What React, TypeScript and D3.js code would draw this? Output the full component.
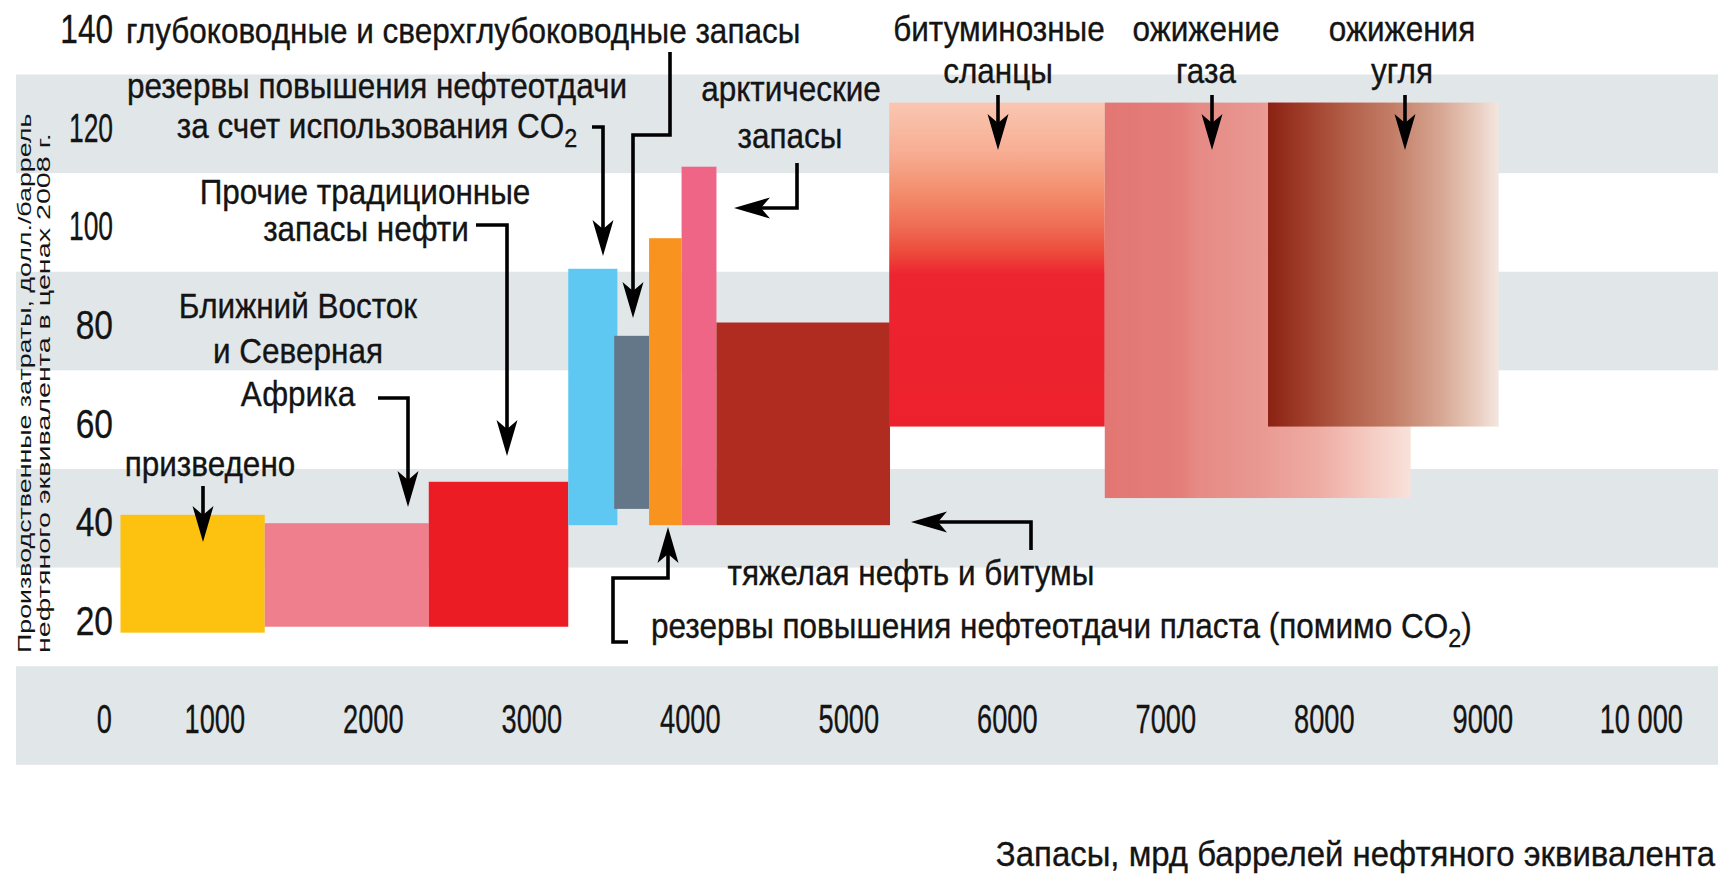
import React from "react";
import * as d3 from "d3";

// ---------- data ----------
const categories = [
  "произведено",
  "Ближний Восток и Северная Африка",
  "Прочие традиционные запасы нефти",
  "резервы повышения нефтеотдачи за счет CO2",
  "глубоководные и сверхглубоководные запасы",
  "резервы повышения нефтеотдачи пласта (помимо CO2)",
  "арктические запасы",
  "тяжелая нефть и битумы",
  "битуминозные сланцы",
  "ожижение газа",
  "ожижение угля",
];
// reserves, bn barrels of oil equivalent (extent on x axis)
const reserveStart = [405, 1315, 2350, 3230, 3520, 3740, 3945, 4165, 5255, 6615, 7645];
const reserveEnd = [1315, 2350, 3230, 3540, 3740, 3945, 4165, 5260, 6615, 8545, 9100];
// production cost, USD/barrel (2008 prices)
const costLow = [16.8, 18.0, 18.0, 38.6, 41.9, 38.6, 38.6, 38.6, 58.6, 44.1, 58.6];
const costHigh = [40.7, 39.0, 47.4, 90.6, 77.0, 96.8, 111.3, 79.7, 124.3, 124.3, 124.3];

const yTicks = [20, 40, 60, 80, 100, 120, 140];
const xTicks = [0, 1000, 2000, 3000, 4000, 5000, 6000, 7000, 8000, 9000, 10000];
const xTickLabels = ["0", "1000", "2000", "3000", "4000", "5000", "6000", "7000", "8000", "9000", "10 000"];
const bandLows = [-10, 30, 70, 110];

// ---------- styles ----------
const fills = [
  "#fdc10f",
  "#f07f8d",
  "#ec1c24",
  "#5ec8f2",
  "#637788",
  "#f7931e",
  "#ee6585",
  "#b02b20",
  "url(#gShale)",
  "url(#gGas)",
  "url(#gCoal)",
];
const FONT = "'Liberation Sans', Arial, Helvetica, sans-serif";
const W = 1718;
const H = 881;
const INK = "#141414";

const x = d3.scaleLinear().domain([0, 10000]).range([56.3, 1641.3]);
const y = d3.scaleLinear().domain([130, -10]).range([74.5, 764.8]);

type Lbl = { t: string; sub?: string; after?: string; x: number; y: number; a?: "start" | "middle" | "end"; fs?: number; sx?: number };
const labels: Lbl[] = [
  { t: "глубоководные и сверхглубоководные запасы", x: 126, y: 43, a: "start" },
  { t: "резервы повышения нефтеотдачи", x: 377, y: 98 },
  { t: "за счет использования CO", sub: "2", x: 377, y: 138 },
  { t: "Прочие традиционные", x: 365, y: 204 },
  { t: "запасы нефти", x: 366, y: 241 },
  { t: "Ближний Восток", x: 298, y: 318 },
  { t: "и Северная", x: 298, y: 363 },
  { t: "Африка", x: 298, y: 406 },
  { t: "призведено", x: 210, y: 476 },
  { t: "арктические", x: 791, y: 101 },
  { t: "запасы", x: 790, y: 148 },
  { t: "битуминозные", x: 999, y: 41 },
  { t: "сланцы", x: 998, y: 83 },
  { t: "ожижение", x: 1206, y: 41 },
  { t: "газа", x: 1206, y: 83 },
  { t: "ожижения", x: 1402, y: 41 },
  { t: "угля", x: 1402, y: 83 },
  { t: "тяжелая нефть и битумы", x: 911, y: 585 },
  { t: "резервы повышения нефтеотдачи пласта (помимо CO", sub: "2", after: ")", x: 651, y: 638, a: "start" },
  { t: "Запасы, мрд баррелей нефтяного эквивалента", x: 1715, y: 866, a: "end", fs: 36, sx: 0.915 },
];

const arrows: number[][][] = [
  [[670, 52], [670, 135], [633, 135], [633, 318]],
  [[592, 127], [603, 127], [603, 256]],
  [[476, 225], [507, 225], [507, 456]],
  [[378, 398], [408, 398], [408, 507]],
  [[203, 486], [203, 542]],
  [[797, 163], [797, 208], [734, 208]],
  [[998, 95], [998, 150]],
  [[1212, 95], [1212, 150]],
  [[1405, 95], [1405, 150]],
  [[1031, 550], [1031, 522], [911, 522]],
  [[628, 642], [613, 642], [613, 578], [668, 578], [668, 527]],
];

function Arrow({ pts }: { pts: number[][] }) {
  const L = 36, Wd = 21, notch = 9;
  const n = pts.length;
  const [tx, ty] = pts[n - 1];
  const [px, py] = pts[n - 2];
  const len = Math.hypot(tx - px, ty - py);
  const ux = (tx - px) / len, uy = (ty - py) / len;
  const nx = -uy, ny = ux;
  const bx = tx - ux * L, by = ty - uy * L;
  const line = pts.slice(0, n - 1).concat([[tx - ux * (L - notch), ty - uy * (L - notch)]]);
  const head = [
    [tx, ty],
    [bx + nx * Wd / 2, by + ny * Wd / 2],
    [tx - ux * (L - notch), ty - uy * (L - notch)],
    [bx - nx * Wd / 2, by - ny * Wd / 2],
  ];
  return (
    <g>
      <path d={d3.line()(line as [number, number][]) || ""} fill="none" stroke="#000" strokeWidth={3.6} strokeLinejoin="miter" />
      <path d={(d3.line()(head as [number, number][]) || "") + "Z"} fill="#000" />
    </g>
  );
}

function T({ x, y, sx = 1, fs, anchor = "middle", children }: { x: number; y: number; sx?: number; fs: number; anchor?: string; children: React.ReactNode }) {
  return (
    <g transform={`translate(${x},${y}) scale(${sx},1)`}>
      <text textAnchor={anchor as any} fontSize={fs} fill={INK} stroke={INK} strokeWidth={0.35}>{children}</text>
    </g>
  );
}

function yTickScaleX(t: number) {
  if (t === 140) return 0.77;
  return String(t).length === 3 ? 0.66 : 0.84;
}

export default function App() {
  return (
    <svg width={W} height={H} style={{ position: "absolute", left: 0, top: 0, background: "#fff" }} fontFamily={FONT}>
      <defs>
        <linearGradient id="gShale" x1="0" y1="0" x2="0" y2="1">
          <stop offset="0" stopColor="#fac6b1" />
          <stop offset="0.15" stopColor="#f7ae94" />
          <stop offset="0.28" stopColor="#f38c6c" />
          <stop offset="0.38" stopColor="#ef6d55" />
          <stop offset="0.46" stopColor="#ec4c3c" />
          <stop offset="0.53" stopColor="#ec2530" />
          <stop offset="1" stopColor="#ec212d" />
        </linearGradient>
        <linearGradient id="gGas" x1="0" y1="0" x2="1" y2="0">
          <stop offset="0" stopColor="#e27673" />
          <stop offset="0.25" stopColor="#e47e7a" />
          <stop offset="0.3" stopColor="#e68a85" />
          <stop offset="0.5" stopColor="#e99891" />
          <stop offset="0.7" stopColor="#eeaca4" />
          <stop offset="0.85" stopColor="#f4c8bf" />
          <stop offset="1" stopColor="#f8e2db" />
        </linearGradient>
        <linearGradient id="gCoal" x1="0" y1="0" x2="1" y2="0">
          <stop offset="0" stopColor="#8b2113" />
          <stop offset="0.15" stopColor="#9e3c28" />
          <stop offset="0.35" stopColor="#b3604a" />
          <stop offset="0.55" stopColor="#c47f69" />
          <stop offset="0.75" stopColor="#d7a793" />
          <stop offset="0.9" stopColor="#e8cbbd" />
          <stop offset="1" stopColor="#f4e6df" />
        </linearGradient>
      </defs>

      {/* background bands */}
      {bandLows.map((b) => (
        <rect key={b} x={16} y={y(b + 20)} width={W - 16} height={y(b) - y(b + 20)} fill="#e1e6e9" />
      ))}

      {/* y axis title */}
      <g transform="translate(31,653) rotate(-90) scale(1.41,1)">
        <text fontSize={19} fill={INK}>Производственные затраты, долл./баррель</text>
      </g>
      <g transform="translate(50,653) rotate(-90) scale(1.51,1)">
        <text fontSize={19} fill={INK}>нефтяного эквивалента в ценах 2008 г.</text>
      </g>

      {/* y ticks */}
      {yTicks.map((t) => (
        <T key={t} x={113} y={y(t) + 18} fs={t === 140 ? 41 : 40} sx={yTickScaleX(t)} anchor="end">{t}</T>
      ))}

      {/* x ticks */}
      {xTicks.map((t, i) => (
        <T key={t} x={x(t) + (t === 0 ? 48 : 0)} y={733} fs={40} sx={0.68}>{xTickLabels[i]}</T>
      ))}

      {/* bars */}
      {categories.map((c, i) => (
        <rect
          key={c}
          x={x(reserveStart[i])}
          y={y(costHigh[i])}
          width={x(reserveEnd[i]) - x(reserveStart[i])}
          height={y(costLow[i]) - y(costHigh[i])}
          fill={fills[i]}
        />
      ))}

      {/* arrows */}
      {arrows.map((p, i) => (
        <Arrow key={i} pts={p} />
      ))}

      {/* labels */}
      {labels.map((l, i) => (
        <T key={i} x={l.x} y={l.y} fs={l.fs || 35} sx={l.sx || 0.9} anchor={l.a || "middle"}>
          {l.t}
          {l.sub ? <tspan dy={9} fontSize={26}>{l.sub}</tspan> : null}
          {l.after ? <tspan dy={-9}>{l.after}</tspan> : null}
        </T>
      ))}
    </svg>
  );
}
